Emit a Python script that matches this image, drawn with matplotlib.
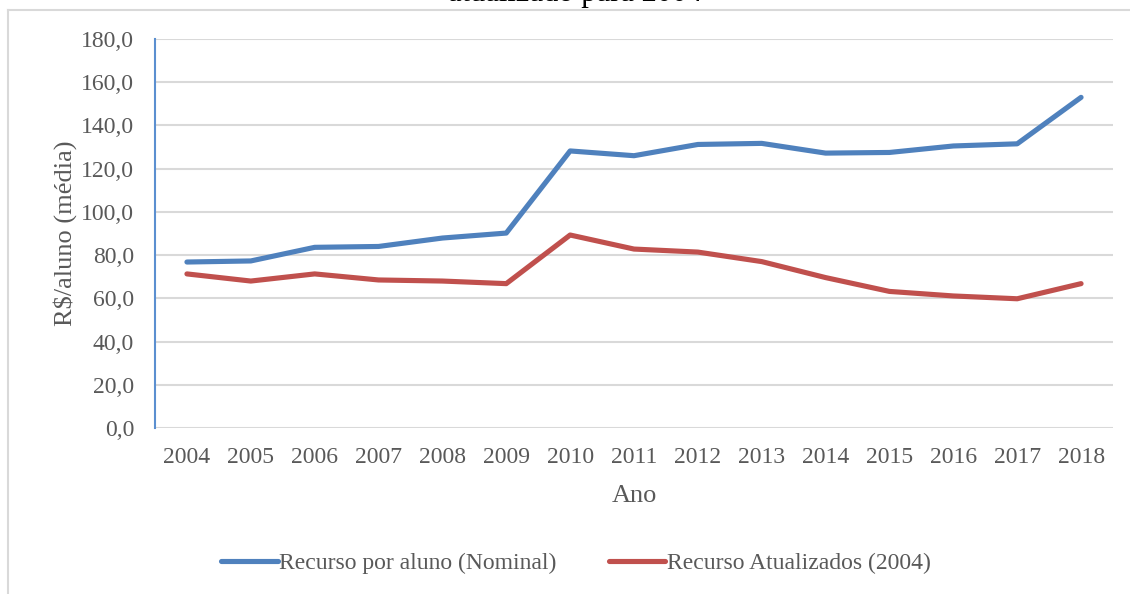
import numpy as np
import matplotlib.pyplot as plt
from matplotlib.lines import Line2D

plt.rcParams['font.family'] = ['Liberation Serif', 'DejaVu Serif']

anos = ['2004', '2005', '2006', '2007', '2008', '2009', '2010', '2011',
        '2012', '2013', '2014', '2015', '2016', '2017', '2018']
nominal = [76.8, 77.3, 83.6, 84.0, 87.9, 90.2, 128.2, 126.0,
           131.2, 131.7, 127.2, 127.5, 130.5, 131.5, 153.0]
atualizado = [71.3, 68.0, 71.3, 68.5, 68.0, 66.8, 89.3, 82.8,
              81.4, 77.0, 69.6, 63.2, 61.1, 59.8, 66.8]
yticks = [0, 20, 40, 60, 80, 100, 120, 140, 160, 180]

cinza = '#595959'
azul = '#4F81BD'
vermelho = '#C0504D'

fig = plt.figure(figsize=(11.3, 5.94), dpi=100)
ax = fig.add_axes([155/1130, 1 - 428/594, (1113 - 155)/1130, (428 - 39)/594])

x = np.arange(len(anos))
ax.plot(x, nominal, color=azul, lw=3.7, solid_capstyle='round',
        solid_joinstyle='round', label='Recurso por aluno (Nominal)', zorder=3)
ax.plot(x, atualizado, color=vermelho, lw=3.7, solid_capstyle='round',
        solid_joinstyle='round', label='Recurso Atualizados (2004)', zorder=3)

ax.set_xlim(-0.5, len(anos) - 0.5)
ax.set_ylim(0, 180)
ax.set_xticks(x)
ax.set_xticklabels(anos)
ax.set_yticks(yticks)
ax.set_yticklabels([f'{v:.1f}'.replace('.', ',') for v in yticks])
ax.yaxis.grid(True, color='#D9D9D9', lw=1.5)
ax.set_axisbelow(True)
ax.tick_params(length=0, labelsize=17, colors=cinza)
ax.tick_params(axis='y', pad=15)
ax.tick_params(axis='x', pad=14)

for s in ['top', 'right', 'bottom']:
    ax.spines[s].set_visible(False)
ax.spines['left'].set_color('#5B8FD0')
ax.spines['left'].set_linewidth(1.5)

ax.set_ylabel('R$/aluno (média)', fontsize=19, color=cinza, labelpad=3)
ax.set_xlabel('Ano', fontsize=19, color=cinza, labelpad=12)

fig.legend(loc='center', bbox_to_anchor=(576/1130, 1 - 563/594), ncol=2,
           frameon=False, fontsize=17, handlelength=2.4, handletextpad=0.08,
           columnspacing=2.2, labelcolor=cinza)

# moldura da área do gráfico
fig.add_artist(Line2D([8/1130, 1], [1 - 10/594, 1 - 10/594],
                      color='#D9D9D9', lw=1.5, transform=fig.transFigure))
fig.add_artist(Line2D([8/1130, 8/1130], [0, 1 - 10/594],
                      color='#D9D9D9', lw=1.5, transform=fig.transFigure))

fig.text(575/1130, 1 - 1/594, 'atualizado para 2004', ha='center',
         va='baseline', fontsize=22, color='black')

fig.savefig('out.png', dpi=100)
